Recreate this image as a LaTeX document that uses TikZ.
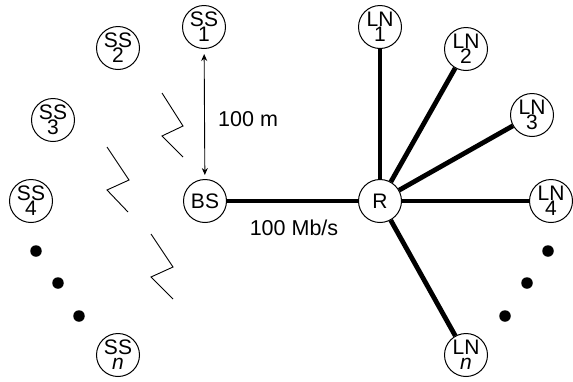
\documentclass[tikz,border=0pt]{standalone}
\usepackage{fontspec}
\setmainfont{Liberation Sans}
\usetikzlibrary{arrows.meta}
\begin{document}
\begin{tikzpicture}[x=1pt,y=-1pt,
  station/.style={circle,draw,line width=1pt,minimum size=43pt,inner sep=0pt,
    align=center,font=\fontsize{21}{15}\selectfont},
  link/.style={line width=4.8pt},
  bolt/.style={line width=0.9pt},
  dot/.style={circle,fill,inner sep=0pt,minimum size=11.5pt},
  lbl/.style={font=\fontsize{21.5}{21.5}\selectfont,inner sep=0pt}]
\useasboundingbox (0,0) rectangle (573,381);

% subscriber stations around the base station
\node[station] (ss1) at (204,27)  {SS\\1};
\node[station] (ss2) at (118,48)  {SS\\2};
\node[station] (ss3) at (53,120)  {SS\\3};
\node[station] (ss4) at (31,201)  {SS\\4};
\node[station] (ssn) at (118,355) {SS\\\textit{n}};
\node[station] (bs)  at (205,201) {BS};

% router and its local nodes
\node[station] (r)   at (380,201) {R};
\node[station] (ln1) at (380,27)  {LN\\1};
\node[station] (ln2) at (466,49)  {LN\\2};
\node[station] (ln3) at (532,115) {LN\\3};
\node[station] (ln4) at (551,201) {LN\\4};
\node[station] (lnn) at (466,355) {LN\\\textit{n}};

% ellipsis dots
\node[dot] (d1) at (36,251) {};
\node[dot] (d2) at (58,283) {};
\node[dot] (d3) at (79,316) {};
\node[dot] (e1) at (548,251) {};
\node[dot] (e2) at (527,283) {};
\node[dot] (e3) at (505,316) {};

% wired links
\draw[link] (bs) -- (r);
\foreach \n in {ln1,ln2,ln3,ln4,lnn} \draw[link] (r) -- (\n);

% distance arrow
\draw[line width=0.9pt,{Stealth[length=7pt,width=6pt]}-{Stealth[length=7pt,width=6pt]},
  shorten <=5pt,shorten >=4pt] (ss1) -- (bs);
\node[lbl,anchor=west] (dist) at (218,119) {100 m};
\node[lbl] (rate) at (294,228) {100 Mb/s};

% radio links
\draw[bolt] (162,93) -- (183,126) -- (162,136) -- (183,157);
\draw[bolt] (107,147) -- (129,180) -- (107,190) -- (128,212);
\draw[bolt] (151,234) -- (173,267) -- (151,277) -- (173,299);
\end{tikzpicture}
\end{document}
